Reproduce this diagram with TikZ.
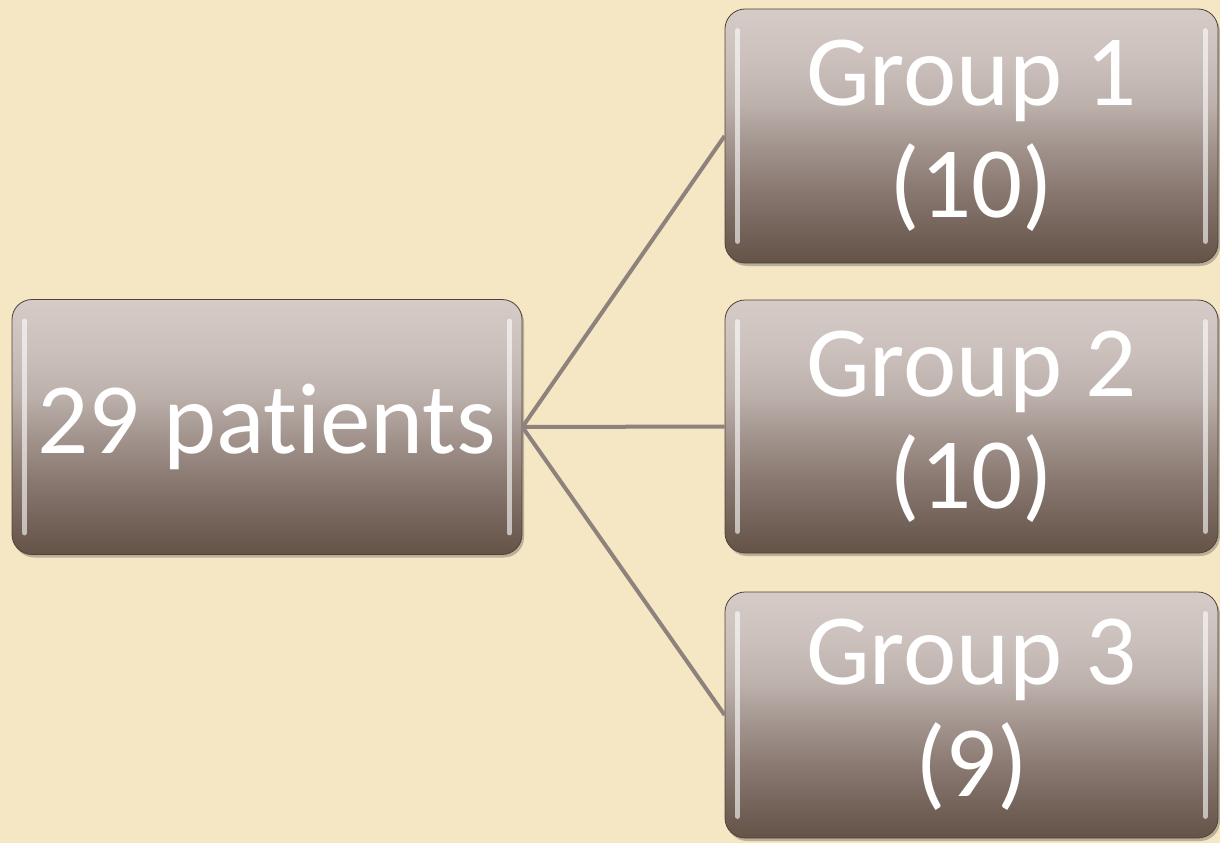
\documentclass[tikz,border=0pt]{standalone}
\usepackage{fontspec}
\setmainfont{Carlito}[Ligatures={NoCommon}]
\usetikzlibrary{shadows}
\definecolor{bgc}{RGB}{245,230,196}
\definecolor{linec}{RGB}{142,130,124}
\definecolor{s1}{RGB}{101,83,71}
\definecolor{s2}{RGB}{112,95,85}
\definecolor{s3}{RGB}{138,122,114}
\definecolor{s4}{RGB}{168,154,148}
\definecolor{s5}{RGB}{188,176,171}
\definecolor{s6}{RGB}{203,192,188}
\definecolor{s7}{RGB}{213,203,199}
\pgfdeclareverticalshading{boxshade}{100bp}{color(0bp)=(s1); color(25bp)=(s1); color(30bp)=(s2); color(40bp)=(s3); color(50bp)=(s4); color(56bp)=(s5); color(65bp)=(s6); color(75bp)=(s7); color(100bp)=(s7)}
\tikzset{
  gbox/.style={rounded corners=20pt, shading=boxshade, draw=s1!80!black, line width=0.8pt, inner sep=0pt,
    text=white, align=center, font=\fontsize{101}{112}\selectfont,
    drop shadow={shadow xshift=2pt, shadow yshift=-3pt, opacity=0.35, fill=black!70}},
  conn/.style={draw=linec, line width=4pt},
  hl/.style={draw=white, line width=5pt, opacity=0.6, line cap=round}
}
\begin{document}
\begin{tikzpicture}[x=1pt,y=-1pt]
\fill[bgc] (0,0) rectangle (1220,843);
\useasboundingbox (0,0) rectangle (1220,843);
\node[gbox, minimum width=510pt, minimum height=255pt] (p) at (267,427) {29 patients};
\node[gbox, minimum width=493pt, minimum height=254pt] (g1) at (971.5,136) {Group 1\\(10)};
\node[gbox, minimum width=493pt, minimum height=253pt] (g2) at (971.5,426.5) {Group 2\\(10)};
\node[gbox, minimum width=493pt, minimum height=246pt] (g3) at (971.5,715) {Group 3\\(9)};
\foreach \n in {p,g1,g2,g3}{
  \draw[hl] ([xshift=13pt,yshift=-22pt]\n.north west) -- ([xshift=13pt,yshift=22pt]\n.south west);
  \draw[hl] ([xshift=-13pt,yshift=-22pt]\n.north east) -- ([xshift=-13pt,yshift=22pt]\n.south east);
}
\draw[conn] (p.east) -- (g1.west);
\draw[conn] (p.east) -- (g2.west);
\draw[conn] (p.east) -- (g3.west);
\end{tikzpicture}
\end{document}
